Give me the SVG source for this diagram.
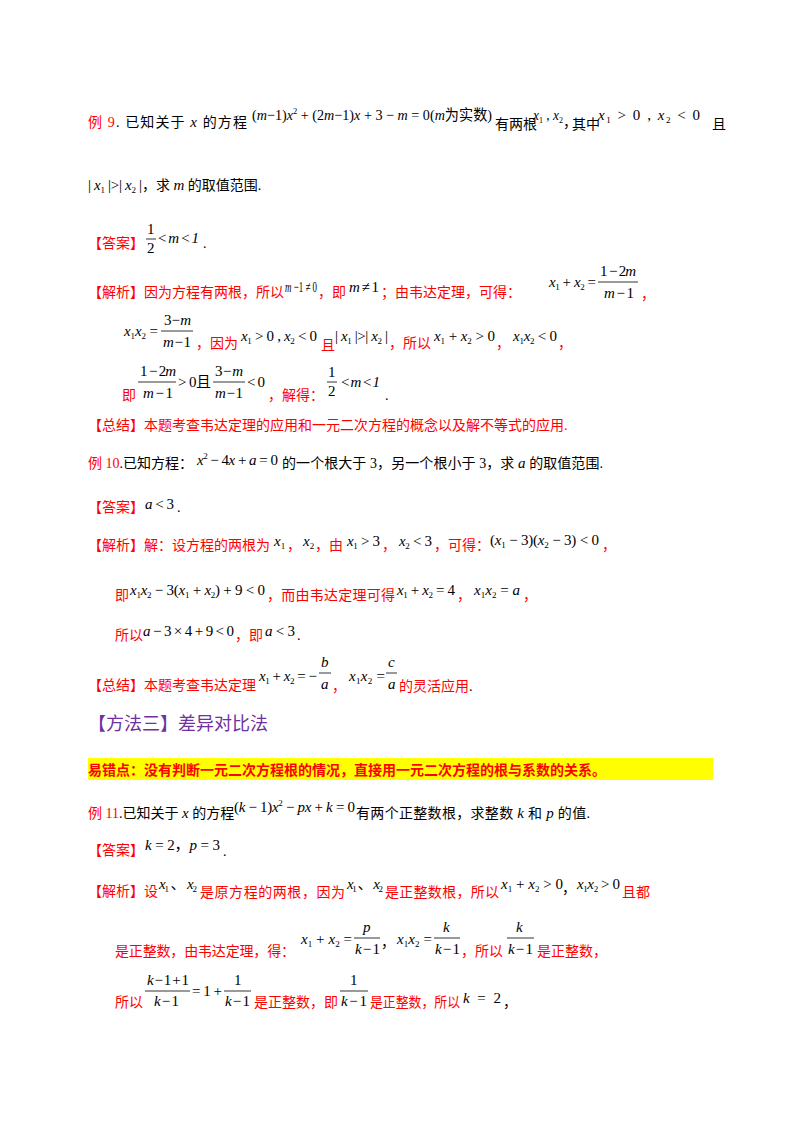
<svg xmlns="http://www.w3.org/2000/svg" width="800" height="1132" viewBox="0 0 800 1132">
<style>
text{font-family:"Liberation Serif","Noto Sans CJK SC",serif;font-size:14px}
.r{fill:#f00}.k{fill:#000}
.m{font-family:"Liberation Serif","Noto Sans CJK SC",serif;font-style:italic;fill:#000;font-size:15px}
.n{font-style:normal}
.s{font-size:9px}
.f{stroke:#000;stroke-width:0.8}
.h{fill:#7030A0;font-size:18px}
</style>
<rect width="800" height="1132" fill="#fff"/>
<!-- Example 9 -->
<text x="88" y="127" textLength="159" lengthAdjust="spacing"><tspan class="r">例 9</tspan><tspan class="k">. 已知关于 </tspan><tspan class="m">x</tspan><tspan class="k"> 的方程</tspan></text>
<text x="252" y="120" class="m" textLength="240" lengthAdjust="spacingAndGlyphs"><tspan class="n">(</tspan>m<tspan class="n">−1)</tspan>x<tspan class="s n" dy="-6">2</tspan><tspan class="n" dy="6"> + (2</tspan>m<tspan class="n">−1)</tspan>x<tspan class="n"> + 3 − </tspan>m<tspan class="n"> = 0(</tspan>m<tspan class="n">为实数)</tspan></text>
<text x="495" y="129" class="k" font-size="11">有两根</text>
<text x="533" y="120" class="m" textLength="30" lengthAdjust="spacingAndGlyphs">x<tspan class="s n" dy="3">1</tspan><tspan class="n" dy="-3"> , </tspan>x<tspan class="s n" dy="3">2</tspan></text>
<text x="563" y="127" class="k">，</text>
<text x="572" y="129" class="k" font-size="11">其中</text>
<text x="598" y="120" class="m" textLength="102">x<tspan class="s n" dy="3">1</tspan><tspan class="n" dy="-3"> &gt; 0 , </tspan>x<tspan class="s n" dy="3">2</tspan><tspan class="n" dy="-3"> &lt; 0</tspan></text>
<text x="712" y="129" class="k" font-size="13">且</text>
<text x="88" y="190" class="m" textLength="54"><tspan class="n">| </tspan>x<tspan class="s n" dy="3">1</tspan><tspan class="n" dy="-3"> |&gt;| </tspan>x<tspan class="s n" dy="3">2</tspan><tspan class="n" dy="-3"> |</tspan></text>
<text x="142" y="190" class="k">，求 <tspan class="m">m</tspan> 的取值范围.</text>
<text x="88" y="248" class="r">【答案】</text>
<text x="147" y="234" class="m n">1</text><line class="f" x1="146" y1="239" x2="156" y2="239"/><text x="147" y="253" class="m n">2</text>
<text x="157" y="243" class="m" textLength="42">&lt; m &lt; 1</text><text x="203" y="248" class="k">.</text>
<text x="88" y="297" class="r">【解析】因为方程有两根，所以</text>
<text x="285" y="292" class="m" textLength="32" lengthAdjust="spacingAndGlyphs">m<tspan class="n"> −1 ≠ 0</tspan></text>
<text x="318" y="297" class="r">，即</text>
<text x="349" y="292" class="m" textLength="30">m<tspan class="n"> ≠ 1</tspan></text>
<text x="381" y="297" class="r">；由韦达定理，可得：</text>
<text x="549" y="287" class="m" textLength="47">x<tspan class="s n" dy="3">1</tspan><tspan class="n" dy="-3"> + </tspan>x<tspan class="s n" dy="3">2</tspan><tspan class="n" dy="-3"> =</tspan></text>
<text x="600" y="276" class="m" textLength="36"><tspan class="n">1 − 2</tspan>m</text><line class="f" x1="598" y1="282" x2="638" y2="282"/><text x="604" y="298" class="m" textLength="30">m<tspan class="n"> − 1</tspan></text>
<text x="641" y="299" class="r">，</text>
<text x="124" y="336" class="m" textLength="34">x<tspan class="s n" dy="3">1</tspan><tspan dy="-3">x</tspan><tspan class="s n" dy="3">2</tspan><tspan class="n" dy="-3"> =</tspan></text>
<text x="164" y="325" class="m" textLength="27"><tspan class="n">3 − </tspan>m</text><line class="f" x1="161" y1="331" x2="193" y2="331"/><text x="163" y="347" class="m" textLength="28">m<tspan class="n"> − 1</tspan></text>
<text x="196" y="348" class="r">，因为</text>
<text x="241" y="341" class="m" textLength="76">x<tspan class="s n" dy="3">1</tspan><tspan class="n" dy="-3"> &gt; 0 , </tspan>x<tspan class="s n" dy="3">2</tspan><tspan class="n" dy="-3"> &lt; 0</tspan></text>
<text x="321" y="350" class="r">且</text>
<text x="335" y="341" class="m" textLength="53"><tspan class="n">| </tspan>x<tspan class="s n" dy="3">1</tspan><tspan class="n" dy="-3"> |&gt;| </tspan>x<tspan class="s n" dy="3">2</tspan><tspan class="n" dy="-3"> |</tspan></text>
<text x="389" y="348" class="r">，所以</text>
<text x="434" y="341" class="m" textLength="61">x<tspan class="s n" dy="3">1</tspan><tspan class="n" dy="-3"> + </tspan>x<tspan class="s n" dy="3">2</tspan><tspan class="n" dy="-3"> &gt; 0</tspan></text>
<text x="496" y="348" class="r">，</text>
<text x="513" y="341" class="m" textLength="44">x<tspan class="s n" dy="3">1</tspan><tspan dy="-3">x</tspan><tspan class="s n" dy="3">2</tspan><tspan class="n" dy="-3"> &lt; 0</tspan></text>
<text x="558" y="348" class="r">，</text>
<text x="122" y="400" class="r">即</text>
<text x="140" y="376" class="m" textLength="36"><tspan class="n">1 − 2</tspan>m</text><line class="f" x1="138" y1="382" x2="176" y2="382"/><text x="143" y="398" class="m" textLength="30">m<tspan class="n"> − 1</tspan></text>
<text x="178" y="387" class="m n" textLength="33">&gt; 0且</text>
<text x="215" y="376" class="m" textLength="28"><tspan class="n">3 − </tspan>m</text><line class="f" x1="213" y1="382" x2="245" y2="382"/><text x="215" y="398" class="m" textLength="28">m<tspan class="n"> − 1</tspan></text>
<text x="247" y="387" class="m n" textLength="18">&lt; 0</text>
<text x="268" y="400" class="r">，解得：</text>
<text x="328" y="377" class="m n">1</text><line class="f" x1="327" y1="382" x2="337" y2="382"/><text x="328" y="396" class="m n">2</text>
<text x="340" y="387" class="m" textLength="40">&lt; m &lt; 1</text><text x="385" y="400" class="k">.</text>
<text x="88" y="430" class="r">【总结】本题考查韦达定理的应用和一元二次方程的概念以及解不等式的应用.</text>
<!-- Example 10 -->
<text x="88" y="468"><tspan class="r">例 10</tspan><tspan class="k">.已知方程：</tspan></text>
<text x="197" y="465" class="m" textLength="81">x<tspan class="s n" dy="-6">2</tspan><tspan class="n" dy="6"> − 4</tspan>x<tspan class="n"> + </tspan>a<tspan class="n"> = 0</tspan></text>
<text x="282" y="468" class="k" textLength="321" lengthAdjust="spacing">的一个根大于 3，另一个根小于 3，求 <tspan class="m">a</tspan> 的取值范围.</text>
<text x="88" y="512" class="r">【答案】</text>
<text x="145" y="509" class="m" textLength="29">a<tspan class="n"> &lt; 3</tspan></text><text x="177" y="512" class="k">.</text>
<text x="88" y="550" class="r">【解析】解：设方程的两根为</text>
<text x="274" y="546" class="m">x<tspan class="s n" dy="3">1</tspan></text><text x="287" y="550" class="r">，</text>
<text x="303" y="546" class="m">x<tspan class="s n" dy="3">2</tspan></text><text x="315" y="550" class="r">，由</text>
<text x="347" y="546" class="m" textLength="33">x<tspan class="s n" dy="3">1</tspan><tspan class="n" dy="-3"> &gt; 3</tspan></text><text x="382" y="550" class="r">，</text>
<text x="399" y="546" class="m" textLength="33">x<tspan class="s n" dy="3">2</tspan><tspan class="n" dy="-3"> &lt; 3</tspan></text>
<text x="434" y="550" class="r">，可得：</text>
<text x="490" y="545" class="m" textLength="109"><tspan class="n">(</tspan>x<tspan class="s n" dy="3">1</tspan><tspan class="n" dy="-3"> − 3)(</tspan>x<tspan class="s n" dy="3">2</tspan><tspan class="n" dy="-3"> − 3) &lt; 0</tspan></text>
<text x="602" y="550" class="r">，</text>
<text x="115" y="600" class="r">即</text>
<text x="130" y="595" class="m" textLength="135">x<tspan class="s n" dy="3">1</tspan><tspan dy="-3">x</tspan><tspan class="s n" dy="3">2</tspan><tspan class="n" dy="-3"> − 3(</tspan>x<tspan class="s n" dy="3">1</tspan><tspan class="n" dy="-3"> + </tspan>x<tspan class="s n" dy="3">2</tspan><tspan class="n" dy="-3">) + 9 &lt; 0</tspan></text>
<text x="267" y="600" class="r" textLength="128">，而由韦达定理可得</text>
<text x="397" y="595" class="m" textLength="58">x<tspan class="s n" dy="3">1</tspan><tspan class="n" dy="-3"> + </tspan>x<tspan class="s n" dy="3">2</tspan><tspan class="n" dy="-3"> = 4</tspan></text>
<text x="457" y="600" class="r">，</text>
<text x="474" y="595" class="m" textLength="46">x<tspan class="s n" dy="3">1</tspan><tspan dy="-3">x</tspan><tspan class="s n" dy="3">2</tspan><tspan class="n" dy="-3"> = </tspan>a</text>
<text x="523" y="600" class="r">，</text>
<text x="115" y="640" class="r">所以</text>
<text x="143" y="636" class="m" textLength="91">a<tspan class="n"> − 3 × 4 + 9 &lt; 0</tspan></text>
<text x="235" y="640" class="r">，即</text>
<text x="265" y="636" class="m" textLength="30">a<tspan class="n"> &lt; 3</tspan></text><text x="297" y="640" class="k">.</text>
<text x="88" y="690" class="r">【总结】本题考查韦达定理</text>
<text x="259" y="681" class="m" textLength="58">x<tspan class="s n" dy="3">1</tspan><tspan class="n" dy="-3"> + </tspan>x<tspan class="s n" dy="3">2</tspan><tspan class="n" dy="-3"> = −</tspan></text>
<text x="321" y="667" class="m">b</text><line class="f" x1="319" y1="673" x2="331" y2="673"/><text x="321" y="689" class="m">a</text>
<text x="332" y="691" class="r">，</text>
<text x="349" y="681" class="m" textLength="36">x<tspan class="s n" dy="3">1</tspan><tspan dy="-3">x</tspan><tspan class="s n" dy="3">2</tspan><tspan class="n" dy="-3"> =</tspan></text>
<text x="388" y="667" class="m">c</text><line class="f" x1="386" y1="673" x2="397" y2="673"/><text x="388" y="689" class="m">a</text>
<text x="399" y="691" class="r">的灵活应用<tspan class="k">.</tspan></text>
<!-- Method 3 -->
<text x="88" y="730" class="h">【方法三】差异对比法</text>
<rect x="88" y="758" width="625" height="22" fill="#FFFF00"/>
<text x="88" y="775" class="r" font-weight="bold">易错点：没有判断一元二次方程根的情况，直接用一元二次方程的根与系数的关系。</text>
<!-- Example 11 -->
<text x="88" y="818"><tspan class="r">例 11</tspan><tspan class="k">.已知关于 </tspan><tspan class="m">x</tspan><tspan class="k"> 的方程</tspan></text>
<text x="234" y="812" class="m" textLength="121"><tspan class="n">(</tspan>k<tspan class="n"> − 1)</tspan>x<tspan class="s n" dy="-6">2</tspan><tspan class="n" dy="6"> − </tspan>px<tspan class="n"> + </tspan>k<tspan class="n"> = 0</tspan></text>
<text x="356" y="818" class="k" textLength="234" lengthAdjust="spacing">有两个正整数根，求整数 <tspan class="m">k</tspan> 和 <tspan class="m">p</tspan> 的值.</text>
<text x="88" y="855" class="r">【答案】</text>
<text x="145" y="850" class="m" textLength="75">k<tspan class="n"> = 2，</tspan>p<tspan class="n"> = 3</tspan></text><text x="223" y="856" class="k">.</text>
<text x="88" y="896" class="r">【解析】设</text>
<text x="159" y="889" class="m" textLength="38">x<tspan class="s n" dy="3">1</tspan><tspan class="n" dy="-3"> 、 </tspan>x<tspan class="s n" dy="3">2</tspan></text>
<text x="200" y="897" class="r" textLength="145">是原方程的两根，因为</text>
<text x="347" y="889" class="m" textLength="36">x<tspan class="s n" dy="3">1</tspan><tspan class="n" dy="-3"> 、 </tspan>x<tspan class="s n" dy="3">2</tspan></text>
<text x="385" y="897" class="r" textLength="114">是正整数根，所以</text>
<text x="501" y="889" class="m" textLength="62">x<tspan class="s n" dy="3">1</tspan><tspan class="n" dy="-3"> + </tspan>x<tspan class="s n" dy="3">2</tspan><tspan class="n" dy="-3"> &gt; 0</tspan></text>
<text x="562" y="893" class="k" font-size="12">，</text>
<text x="577" y="889" class="m" textLength="43">x<tspan class="s n" dy="3">1</tspan><tspan dy="-3">x</tspan><tspan class="s n" dy="3">2</tspan><tspan class="n" dy="-3"> &gt; 0</tspan></text>
<text x="622" y="897" class="r">且都</text>
<text x="115" y="956" class="r" textLength="180">是正整数，由韦达定理，得：</text>
<text x="301" y="944" class="m" textLength="51">x<tspan class="s n" dy="3">1</tspan><tspan class="n" dy="-3"> + </tspan>x<tspan class="s n" dy="3">2</tspan><tspan class="n" dy="-3"> =</tspan></text>
<text x="363" y="932" class="m">p</text><line class="f" x1="354" y1="938" x2="380" y2="938"/><text x="355" y="954" class="m" textLength="25">k<tspan class="n"> − 1</tspan></text>
<text x="381" y="947" class="k">，</text>
<text x="397" y="944" class="m" textLength="35">x<tspan class="s n" dy="3">1</tspan><tspan dy="-3">x</tspan><tspan class="s n" dy="3">2</tspan><tspan class="n" dy="-3"> =</tspan></text>
<text x="443" y="932" class="m">k</text><line class="f" x1="434" y1="938" x2="460" y2="938"/><text x="435" y="954" class="m" textLength="25">k<tspan class="n"> − 1</tspan></text>
<text x="461" y="956" class="r">，所以</text>
<text x="516" y="932" class="m">k</text><line class="f" x1="507" y1="938" x2="534" y2="938"/><text x="508" y="954" class="m" textLength="25">k<tspan class="n"> − 1</tspan></text>
<text x="537" y="956" class="r">是正整数，</text>
<text x="115" y="1007" class="r">所以</text>
<text x="147" y="985" class="m" textLength="42">k<tspan class="n"> − 1 + 1</tspan></text><line class="f" x1="145" y1="991" x2="190" y2="991"/><text x="154" y="1006" class="m" textLength="25">k<tspan class="n"> − 1</tspan></text>
<text x="192" y="996" class="m n" textLength="30">= 1 +</text>
<text x="234" y="985" class="m n">1</text><line class="f" x1="224" y1="991" x2="251" y2="991"/><text x="225" y="1006" class="m" textLength="25">k<tspan class="n"> − 1</tspan></text>
<text x="254" y="1007" class="r">是正整数，即</text>
<text x="350" y="985" class="m n">1</text><line class="f" x1="340" y1="991" x2="368" y2="991"/><text x="341" y="1006" class="m" textLength="26">k<tspan class="n"> − 1</tspan></text>
<text x="370" y="1007" class="r" textLength="90" lengthAdjust="spacingAndGlyphs">是正整数，所以</text>
<text x="463" y="1003" class="m" textLength="38">k<tspan class="n"> = 2</tspan></text>
<text x="503" y="1007" class="k">，</text>
</svg>
